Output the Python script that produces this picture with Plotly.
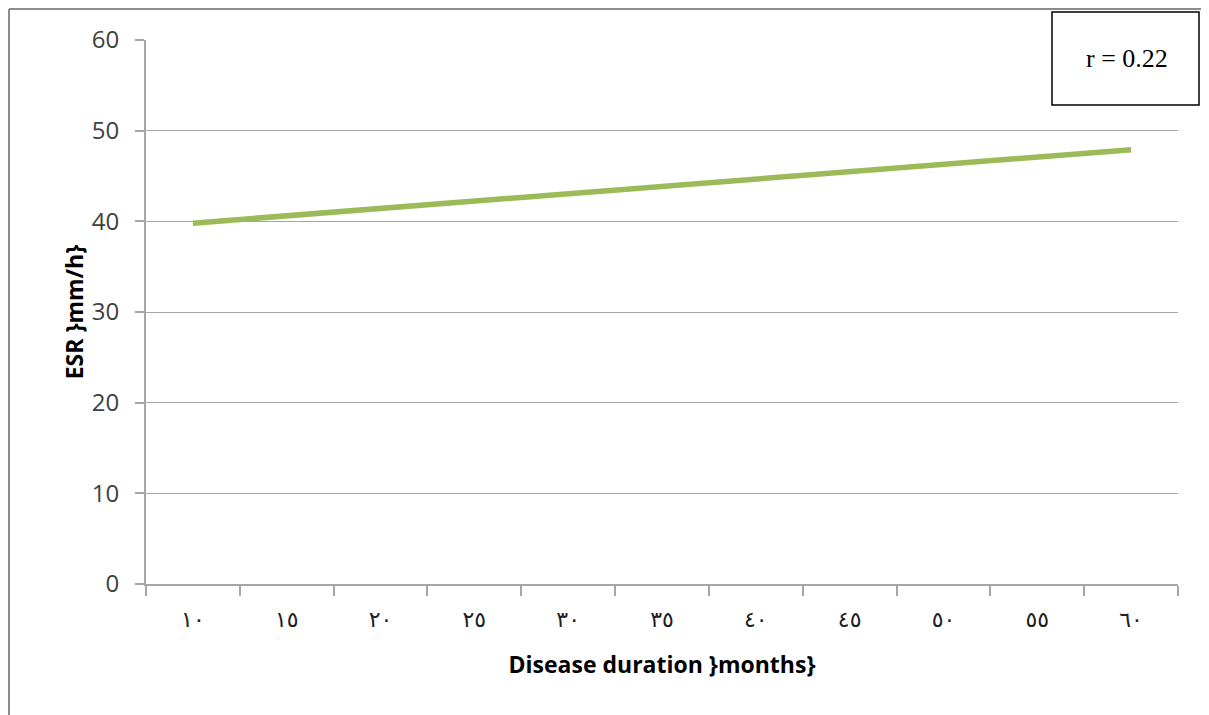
import plotly.graph_objects as go

categories = ["١٠", "١٥", "٢٠", "٢٥", "٣٠", "٣٥", "٤٠", "٤٥", "٥٠", "٥٥", "٦٠"]
esr_values = [39.8, 40.6, 41.4, 42.2, 43.0, 43.9, 44.7, 45.5, 46.3, 47.1, 47.9]
y_ticks = [0, 10, 20, 30, 40, 50, 60]
r_label = "r = 0.22"

# page is offset by the 8px body margin
OFF = 8
W, H = 1209 - OFF, 715 - OFF
L, T = 146 - OFF, 40 - OFF
pw, ph = 1032, 544
R, B = W - L - pw, H - T - ph

def px_x(p):  # p in page pixels
    return (p - OFF - L) / pw

def px_y(p):
    return (T + ph - (p - OFF)) / ph

fig = go.Figure()
fig.add_trace(go.Scatter(
    x=categories, y=esr_values, mode="lines",
    line=dict(color="#9BBB59", width=5.5), showlegend=False, hoverinfo="skip",
))

axis_gray = "#A6A6A6"
fig.update_layout(
    width=W, height=H,
    margin=dict(l=L, r=R, t=T, b=B, autoexpand=False),
    paper_bgcolor="white", plot_bgcolor="white",
    font=dict(family="Open Sans, DejaVu Sans, sans-serif", color="#404040"),
    xaxis=dict(
        type="category", range=[-0.5, 10.5], tickson="boundaries",
        ticks="outside", ticklen=10, tickcolor=axis_gray, tickwidth=1.5,
        showline=True, linecolor=axis_gray, linewidth=2,
        showgrid=False, zeroline=False,
        tickfont=dict(family="DejaVu Sans, Noto Sans, sans-serif", size=22, color="#202020"),
        ticklabelstandoff=15,
        title=dict(text="Disease duration }months}",
                   font=dict(family="Open Sans, sans-serif", size=23, color="black", weight="bold"),
                   standoff=25),
    ),
    yaxis=dict(
        range=[0, 60], tickvals=y_ticks, ticks="outside", ticklen=9,
        tickcolor=axis_gray, tickwidth=1.5,
        showline=True, linecolor=axis_gray, linewidth=2,
        showgrid=True, gridcolor=axis_gray, gridwidth=1.3, zeroline=False,
        tickfont=dict(family="Open Sans, sans-serif", size=24, color="#404040"),
        ticklabelstandoff=11,
        title=dict(text="ESR }mm/h}",
                   font=dict(family="Open Sans, sans-serif", size=23, color="black", weight="bold"),
                   standoff=2),
    ),
)

# outer chart border (left and top edges)
fig.add_shape(type="line", xref="paper", yref="paper",
              x0=px_x(OFF + 1), x1=px_x(OFF + 1), y0=px_y(OFF + 1), y1=px_y(800),
              line=dict(color="#8C8C8C", width=2))
fig.add_shape(type="line", xref="paper", yref="paper",
              x0=px_x(OFF + 1), x1=px_x(1300), y0=px_y(OFF + 1), y1=px_y(OFF + 1),
              line=dict(color="#8C8C8C", width=2))

# r box
fig.add_shape(type="rect", xref="paper", yref="paper", layer="above",
              x0=px_x(1052), x1=px_x(1199), y0=px_y(105), y1=px_y(12),
              fillcolor="white", line=dict(color="black", width=1.5))
fig.add_annotation(xref="paper", yref="paper", x=px_x(1127), y=px_y(59),
                   xanchor="center", yanchor="middle",
                   text=r_label, showarrow=False,
                   font=dict(family="Liberation Serif, Times New Roman, serif", size=26, color="black"))

fig.write_html("out.html")
